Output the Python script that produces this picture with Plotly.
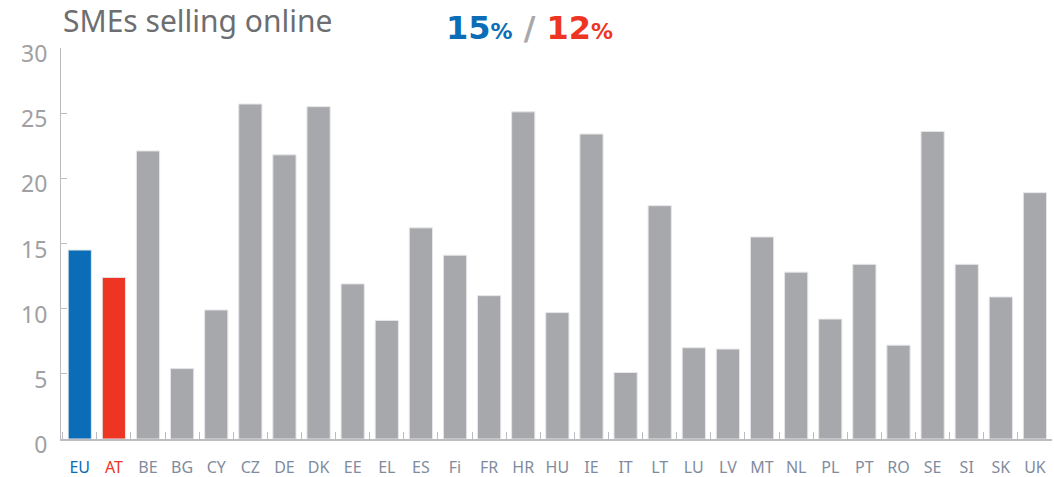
import plotly.graph_objects as go

countries = ["EU", "AT", "BE", "BG", "CY", "CZ", "DE", "DK", "EE", "EL", "ES", "Fi", "FR", "HR",
             "HU", "IE", "IT", "LT", "LU", "LV", "MT", "NL", "PL", "PT", "RO", "SE", "SI", "SK", "UK"]
values = [14.5, 12.4, 22.1, 5.4, 9.9, 25.7, 21.8, 25.5, 11.9, 9.1, 16.2, 14.1, 11.0, 25.1,
          9.7, 23.4, 5.1, 17.9, 7.0, 6.9, 15.5, 12.8, 9.2, 13.4, 7.2, 23.6, 13.4, 10.9, 18.9]
y_ticks = [0, 5, 10, 15, 20, 25, 30]

BLUE = "#0b6db7"
RED = "#ee3524"
GREY = "#a7a8ac"
LABEL = "#7f8c9e"

bar_colors = [BLUE if c == "EU" else RED if c == "AT" else GREY for c in countries]
tick_text = []
for c in countries:
    col = BLUE if c == "EU" else RED if c == "AT" else LABEL
    tick_text.append(f'<span style="color:{col}">{c}</span>')

W, H = 1054, 477
ml, mr, mt, mb = 61, 2, 48, 38
ph = H - mt - mb

fig = go.Figure(go.Bar(
    x=countries, y=values,
    marker=dict(color=bar_colors, line=dict(color="#e6e6e8", width=1)),
    width=0.68,
))

fig.update_layout(
    width=W, height=H,
    margin=dict(l=ml, r=mr, t=mt, b=mb, autoexpand=False),
    paper_bgcolor="white", plot_bgcolor="white",
    showlegend=False,
    font=dict(family="Noto Sans, Open Sans, sans-serif"),
)
fig.update_xaxes(
    tickmode="array", tickvals=countries, ticktext=tick_text,
    tickfont=dict(size=16, color=LABEL), tickangle=0, automargin=False,
    showline=True, linecolor="#bcbdc0", linewidth=2,
    ticks="inside", tickson="boundaries", ticklen=7, tickcolor="#bcbdc0", tickwidth=1,
    showgrid=False, range=[-0.55, 28.5],
    ticklabelstandoff=13,
)
fig.update_yaxes(
    range=[0, 30], tickvals=y_ticks, automargin=False,
    tickfont=dict(size=23, color="#a0a0a3"),
    showline=True, linecolor="#bcbdc0", linewidth=1,
    ticks="inside", ticklen=6, tickcolor="#bcbdc0",
    showgrid=False, zeroline=False,
    ticklabelstandoff=8, ticklabelshift=6,
)

def py(pix):
    return (H - mb - pix) / ph

fig.add_annotation(
    xref="paper", yref="paper", x=0, y=py(20), xanchor="left", yanchor="middle",
    text="SMEs selling online", showarrow=False,
    font=dict(size=30, color="#6d6e71"),
)
fig.add_annotation(
    xref="paper", yref="paper", x=(444 - ml) / (W - ml - mr), y=py(28), xanchor="left", yanchor="middle",
    text=(f'<b><span style="color:{BLUE}">15<span style="font-size:22px">%</span></span>'
          f'<span style="color:#a7a8ac"> / </span>'
          f'<span style="color:{RED}">12<span style="font-size:22px">%</span></span></b>'),
    showarrow=False, font=dict(size=32, family="DejaVu Sans"),
)

fig.write_html("out.html", post_script="document.body.style.margin='0';",
               config={"displayModeBar": False})
